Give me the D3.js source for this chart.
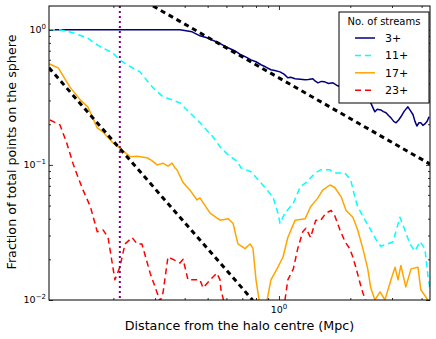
<!DOCTYPE html>
<html><head><meta charset="utf-8">
<script src="https://cdn.jsdelivr.net/npm/d3@7"></script>
<style>body{margin:0;background:#fff} text{font-family:"DejaVu Sans",sans-serif;fill:#000}</style>
</head><body><svg id="c" width="436" height="339"></svg>
<script>
// ---- data (x: distance in Mpc, y: fraction of points) ----
const xMajorTicks = [1];
const xMinorTicks = [0.2,0.3,0.4,0.5,0.6,0.7,0.8,0.9,2,3,4];
const yMajorTicks = [1,0.1,0.01];
const yMinorTicks = [0.02,0.03,0.04,0.05,0.06,0.07,0.08,0.09,0.2,0.3,0.4,0.5,0.6,0.7,0.8,0.9];
const xTickLabels = {1:"0"};
const yTickLabels = {1:"0",0.1:"\u22121",0.01:"\u22122"};
const seriesNames = ["3+","11+","17+","23+"];

const streams3 = [[0.107,1],[0.357,1],[0.382,1],[0.430,0.966],[0.464,0.902],[0.497,0.872],[0.553,0.805],[0.580,0.770],[0.609,0.736],[0.650,0.700],[0.691,0.653],[0.730,0.625],[0.762,0.599],[0.800,0.580],[0.840,0.551],[0.880,0.530],[0.925,0.506],[0.96,0.500],[1.01,0.488],[1.05,0.470],[1.09,0.441],[1.12,0.445],[1.17,0.434],[1.23,0.430],[1.29,0.426],[1.33,0.428],[1.39,0.434],[1.42,0.418],[1.46,0.405],[1.51,0.415],[1.56,0.412],[1.62,0.400],[1.69,0.405],[1.77,0.385],[1.99,0.359],[2.24,0.324],[2.44,0.288],[2.50,0.262],[2.54,0.247],[2.60,0.258],[2.69,0.255],[2.76,0.248],[2.83,0.243],[2.90,0.232],[2.97,0.223],[3.05,0.210],[3.12,0.205],[3.20,0.215],[3.27,0.227],[3.38,0.250],[3.50,0.269],[3.60,0.250],[3.68,0.235],[3.75,0.210],[3.82,0.194],[3.90,0.205],[3.97,0.205],[4.05,0.196],[4.13,0.201],[4.22,0.210],[4.30,0.227]];
const streams11 = [[0.107,1],[0.119,1],[0.135,0.950],[0.155,0.872],[0.176,0.749],[0.199,0.675],[0.213,0.599],[0.228,0.551],[0.259,0.488],[0.294,0.372],[0.324,0.319],[0.354,0.303],[0.382,0.288],[0.409,0.255],[0.464,0.205],[0.527,0.161],[0.564,0.136],[0.609,0.119],[0.671,0.105],[0.691,0.095],[0.762,0.089],[0.873,0.068],[0.943,0.058],[0.990,0.044],[1.01,0.037],[1.06,0.044],[1.15,0.052],[1.23,0.069],[1.30,0.074],[1.42,0.087],[1.50,0.092],[1.64,0.092],[1.74,0.087],[1.90,0.087],[2.01,0.077],[2.09,0.058],[2.15,0.049],[2.31,0.039],[2.44,0.033],[2.57,0.028],[2.69,0.025],[2.88,0.026],[3.03,0.027],[3.24,0.041],[3.40,0.033],[3.57,0.026],[3.75,0.023],[3.94,0.027],[4.13,0.024],[4.25,0.0153],[4.34,0.0119]];
const streams17 = [[0.107,0.560],[0.117,0.523],[0.131,0.378],[0.145,0.303],[0.156,0.269],[0.171,0.188],[0.181,0.175],[0.199,0.146],[0.213,0.133],[0.235,0.115],[0.252,0.116],[0.277,0.113],[0.290,0.108],[0.306,0.100],[0.324,0.103],[0.340,0.098],[0.354,0.103],[0.364,0.095],[0.371,0.092],[0.394,0.074],[0.421,0.065],[0.451,0.055],[0.464,0.057],[0.512,0.044],[0.564,0.039],[0.609,0.040],[0.640,0.037],[0.671,0.026],[0.719,0.024],[0.755,0.026],[0.777,0.024],[0.800,0.0141],[0.832,0.009],[0.881,0.009],[0.925,0.0141],[0.990,0.0175],[1.04,0.0208],[1.09,0.029],[1.17,0.039],[1.29,0.040],[1.36,0.049],[1.46,0.057],[1.53,0.065],[1.64,0.071],[1.72,0.068],[1.83,0.058],[1.92,0.046],[2.05,0.041],[2.15,0.033],[2.26,0.024],[2.37,0.017],[2.44,0.0123],[2.54,0.0100],[2.67,0.0115],[2.80,0.0100],[2.97,0.0141],[3.09,0.0175],[3.18,0.0141],[3.27,0.018],[3.43,0.0125],[3.61,0.017],[3.86,0.0175],[3.97,0.0119],[4.25,0.0100]];
const streams23 = [[0.108,0.215],[0.119,0.198],[0.127,0.146],[0.135,0.103],[0.138,0.092],[0.149,0.065],[0.160,0.049],[0.171,0.032],[0.181,0.033],[0.190,0.029],[0.203,0.0141],[0.213,0.0175],[0.224,0.026],[0.240,0.029],[0.252,0.026],[0.264,0.026],[0.286,0.0158],[0.306,0.0113],[0.315,0.0098],[0.324,0.0113],[0.340,0.0208],[0.357,0.020],[0.382,0.0188],[0.394,0.020],[0.413,0.0141],[0.464,0.0141],[0.478,0.0123],[0.512,0.0141],[0.547,0.0158],[0.564,0.0141],[0.569,0.0119],[0.597,0.0085],[1.01,0.0085],[1.06,0.0100],[1.09,0.0141],[1.15,0.017],[1.20,0.024],[1.26,0.032],[1.30,0.034],[1.36,0.029],[1.43,0.039],[1.50,0.039],[1.58,0.044],[1.66,0.046],[1.72,0.042],[1.81,0.033],[1.90,0.027],[1.99,0.024],[2.05,0.0208],[2.11,0.0175],[2.20,0.0133],[2.26,0.0113],[2.33,0.0098],[2.42,0.0085]];
const guideShallow = [[0.294,1.5],[4.34,0.1014]];
const guideSteep = [[0.107,0.523],[0.775,0.00997]];
const radiusMarker = [0.213];

// ---- drawing ----
const svg = d3.select("#c");
const L=49,R=430,T=6,B=300;
const x = d3.scaleLog().domain([0.107,4.34]).range([L,R]);
const y = d3.scaleLog().domain([0.01,1.5]).range([B,T]);

svg.append("clipPath").attr("id","clip").append("rect")
  .attr("x",L).attr("y",T).attr("width",R-L).attr("height",B-T);

const line = d3.line().x(d=>x(d[0])).y(d=>y(d[1]));
const g = svg.append("g").attr("clip-path","url(#clip)");

const styles = [
  {data:streams3, color:"#000080", dash:null},
  {data:streams11, color:"#00ffff", dash:"6,4"},
  {data:streams17, color:"#ffa500", dash:null},
  {data:streams23, color:"#ff0000", dash:"6,4"}
];
styles.forEach(s=>{
  g.append("path").datum(s.data).attr("d",line).attr("fill","none")
   .attr("stroke",s.color).attr("stroke-width",1.5)
   .attr("stroke-dasharray",s.dash).attr("stroke-linejoin","round");
});
[guideShallow,guideSteep].forEach(d=>{
  g.append("path").datum(d).attr("d",line).attr("fill","none")
   .attr("stroke","#000").attr("stroke-width",3).attr("stroke-dasharray","5,4");
});
g.selectAll(".vline").data(radiusMarker).enter().append("line")
  .attr("x1",d=>x(d)).attr("x2",d=>x(d)).attr("y1",T).attr("y2",B)
  .attr("stroke","#800080").attr("stroke-width",2).attr("stroke-dasharray","2,3");

// axes (inward ticks)
function ax(axisFn, scale, vals, size, tr){
  const a = svg.append("g").attr("transform",tr)
    .call(axisFn(scale).tickValues(vals).tickSize(size).tickFormat(""));
  a.select(".domain").remove();
  a.selectAll("line").attr("stroke","#000").attr("stroke-width",0.8);
  return a;
}
ax(d3.axisBottom,x,xMajorTicks,-4,`translate(0,${B})`);
ax(d3.axisBottom,x,xMinorTicks,-2,`translate(0,${B})`);
ax(d3.axisTop,x,xMajorTicks,-4,`translate(0,${T})`);
ax(d3.axisTop,x,xMinorTicks,-2,`translate(0,${T})`);
ax(d3.axisLeft,y,yMajorTicks,-4,`translate(${L},0)`);
ax(d3.axisLeft,y,yMinorTicks,-2,`translate(${L},0)`);
ax(d3.axisRight,y,yMajorTicks,-4,`translate(${R},0)`);
ax(d3.axisRight,y,yMinorTicks,-2,`translate(${R},0)`);

svg.append("rect").attr("x",L).attr("y",T).attr("width",R-L).attr("height",B-T)
  .attr("fill","none").attr("stroke","#000").attr("stroke-width",1);

// tick labels
xMajorTicks.forEach(v=>{
  const t = svg.append("text").attr("x",x(v)).attr("y",B+13).attr("text-anchor","middle").attr("font-size",9.5);
  t.append("tspan").text("10");
  t.append("tspan").attr("dy",-4).attr("font-size",7).text(xTickLabels[v]);
});
yMajorTicks.forEach(v=>{
  const t = svg.append("text").attr("x",L-3).attr("y",y(v)+3).attr("text-anchor","end").attr("font-size",9.5);
  t.append("tspan").text("10");
  t.append("tspan").attr("dy",-4).attr("font-size",7).text(yTickLabels[v]);
});

// axis titles
svg.append("text").attr("x",(L+R)/2).attr("y",330).attr("text-anchor","middle")
  .attr("font-size",12.7).text("Distance from the halo centre (Mpc)");
svg.append("text").attr("transform",`translate(16,152) rotate(-90)`)
  .attr("text-anchor","middle").attr("font-size",12.7).text("Fraction of total points on the sphere");

// legend
const lg = svg.append("g");
lg.append("rect").attr("x",339).attr("y",12).attr("width",90).attr("height",91)
  .attr("fill","#fff").attr("stroke","#000").attr("stroke-width",1);
lg.append("text").attr("x",384).attr("y",25).attr("text-anchor","middle").attr("font-size",10).text("No. of streams");
styles.forEach((s,i)=>{
  const yy = 38 + i*17.4;
  lg.append("line").attr("x1",355).attr("x2",375).attr("y1",yy).attr("y2",yy)
    .attr("stroke",s.color).attr("stroke-width",1.5).attr("stroke-dasharray",s.dash);
  lg.append("text").attr("x",385).attr("y",yy+4).attr("font-size",11).text(seriesNames[i]);
});
</script></body></html>
